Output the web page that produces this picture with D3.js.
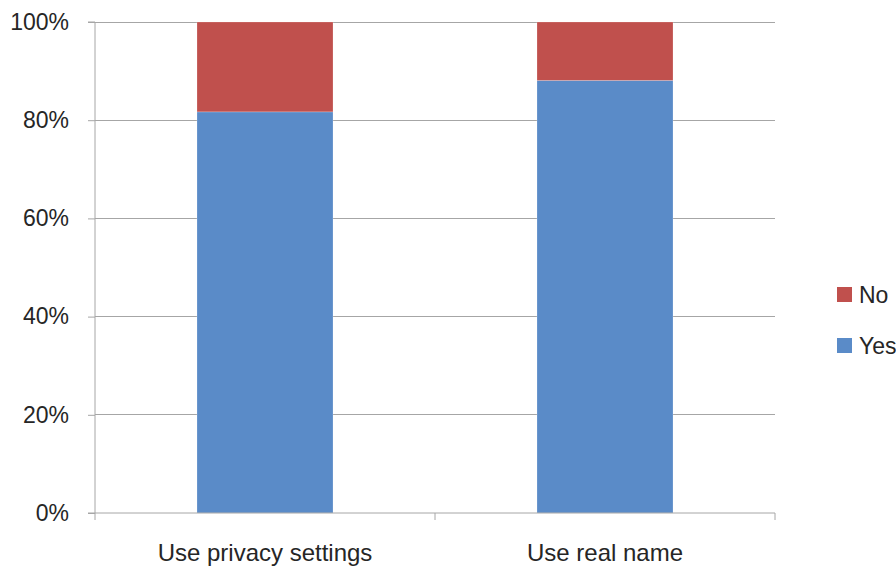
<!DOCTYPE html>
<html><head><meta charset="utf-8">
<script src="https://cdn.jsdelivr.net/npm/d3@7"></script>
<style>body{margin:0;background:#fff}svg{display:block}</style>
</head><body>
<svg id="c" width="896" height="569"></svg>
<script>
const categories = ["Use privacy settings", "Use real name"];
const seriesNames = ["Yes", "No"];
const yesValues = [0.817, 0.881];
const noValues = [0.183, 0.119];
const yTicks = [0, 0.2, 0.4, 0.6, 0.8, 1.0];
const colors = {Yes: "#5A8BC8", No: "#C0504D"};

(function(){
const svg = d3.select("#c");
const font = "'Liberation Sans', Arial, sans-serif";
const pL = 95, pR = 775, pT = 22, pB = 513;

const x = d3.scaleBand().domain(categories).range([pL, pR]).paddingInner(0.6).paddingOuter(0.3);
const y = d3.scaleLinear().domain([0, 1]).range([pB, pT]);

svg.append("g").selectAll("line").data(yTicks.filter(d => d > 0)).join("line")
  .attr("x1", pL).attr("x2", pR)
  .attr("y1", d => y(d)).attr("y2", d => y(d))
  .attr("stroke", "#A6A6A6").attr("stroke-width", 1).attr("shape-rendering", "crispEdges");

const rows = categories.map((c, i) => ({cat: c, Yes: yesValues[i], No: noValues[i]}));
const stack = d3.stack().keys(seriesNames)(rows);
svg.append("g").selectAll("g").data(stack).join("g")
  .attr("fill", d => colors[d.key])
  .selectAll("rect").data(d => d).join("rect")
  .attr("x", d => x(d.data.cat))
  .attr("width", x.bandwidth())
  .attr("y", d => y(d[1]))
  .attr("height", d => y(d[0]) - y(d[1]))
  .attr("stroke", "rgba(255,255,255,0.25)").attr("stroke-width", 0.8);

const yAxis = d3.axisLeft(y).tickValues(yTicks).tickFormat(d3.format(".0%")).tickSize(7).tickPadding(19);
const ya = svg.append("g").attr("transform", `translate(${pL},0)`).call(yAxis);
ya.select(".domain").attr("stroke", "#A6A6A6").attr("d", `M-7,${pT}H0V${pB}`);
ya.selectAll(".tick line").attr("stroke", "#A6A6A6");
ya.selectAll("text").attr("font-family", font).attr("font-size", 23).attr("fill", "#262626");

const xa = svg.append("g").attr("transform", `translate(0,${pB})`);
xa.append("line").attr("x1", pL - 7).attr("x2", pR).attr("y1", 0).attr("y2", 0).attr("stroke", "#A6A6A6");
const bounds = [pL, (pL + pR) / 2, pR];
xa.selectAll("line.t").data(bounds).join("line").attr("class", "t")
  .attr("x1", d => d).attr("x2", d => d).attr("y1", 0).attr("y2", 7).attr("stroke", "#A6A6A6");
xa.selectAll("text").data(categories).join("text")
  .attr("x", d => x(d) + x.bandwidth() / 2).attr("y", 48)
  .attr("text-anchor", "middle").attr("font-family", font).attr("font-size", 24).attr("fill", "#262626")
  .text(d => d);

const legendItems = ["No", "Yes"];
const lg = svg.append("g").attr("transform", "translate(837,287)");
legendItems.forEach((k, i) => {
  const g = lg.append("g").attr("transform", `translate(0,${i * 51})`);
  g.append("rect").attr("width", 15).attr("height", 15).attr("fill", colors[k]);
  g.append("text").attr("x", 22).attr("y", 16).attr("font-family", font).attr("font-size", 23)
    .attr("fill", "#262626").text(k);
});
})();
</script>
</body></html>
